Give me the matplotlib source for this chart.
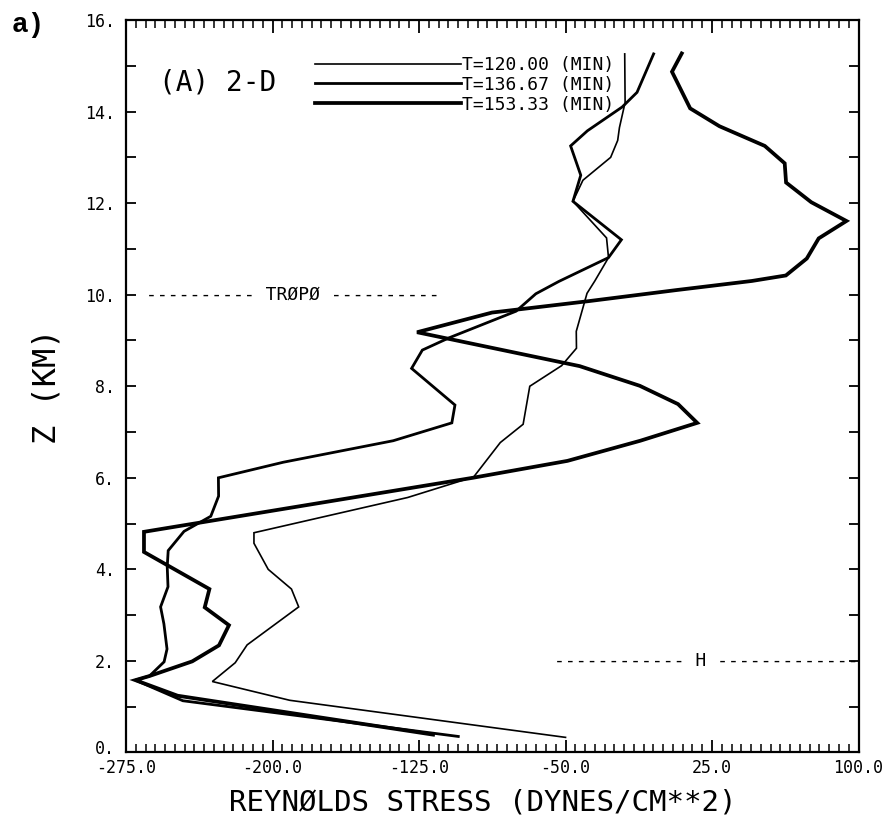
import matplotlib
matplotlib.use("Agg")
import matplotlib.pyplot as plt
from matplotlib.ticker import MultipleLocator, FixedLocator, FixedFormatter
from matplotlib.transforms import ScaledTranslation

# Reynolds stress profiles (dynes/cm**2) against height (km), 2-D run
z_t120 = [15.26, 14.2, 13.65, 13.37, 13.0, 12.5, 12.04, 11.24, 10.81, 10.3,
          10.03, 9.2, 8.83, 8.45, 8.0, 7.17, 6.77, 6.02, 5.57, 4.8, 4.57, 4.0,
          3.57, 3.18, 2.35, 1.96, 1.55, 1.14, 0.33]
s_t120 = [-19.7, -19.5, -22.4, -23.3, -26.9, -41.1, -46.2, -29.0, -28.0, -35.0,
          -39.0, -44.5, -44.4, -52.0, -68.3, -71.7, -83.4, -97.0, -130.8, -209.5,
          -209.5, -202.2, -190.3, -186.6, -213.0, -219.1, -230.8, -191.2, -50.0]

z_t137 = [15.26, 14.42, 14.1, 13.58, 13.25, 12.61, 12.04, 11.2, 10.81, 10.29,
          10.02, 9.64, 9.06, 8.79, 8.39, 7.59, 7.2, 6.81, 6.34, 6.0, 5.6, 5.16,
          4.83, 4.41, 4.06, 3.62, 3.18, 2.81, 2.26, 1.98, 1.67, 1.58, 1.13, 0.35]
s_t137 = [-4.9, -13.4, -21.0, -38.8, -47.4, -42.2, -46.2, -21.4, -28.0, -53.4,
          -65.2, -75.3, -109.5, -123.3, -128.8, -106.6, -108.2, -138.2, -194.5,
          -227.7, -227.6, -231.6, -245.3, -253.4, -253.9, -253.5, -257.3, -255.6,
          -254.0, -255.5, -263.0, -270.2, -245.9, -104.9]

z_t153 = [15.27, 14.87, 14.07, 13.68, 13.25, 12.87, 12.45, 12.02, 11.61, 11.23,
          10.79, 10.42, 10.3, 10.1, 9.86, 9.61, 9.18, 8.44, 8.01, 7.61, 7.2, 6.81,
          6.37, 6.0, 4.82, 4.38, 3.57, 3.17, 2.78, 2.34, 1.99, 1.67, 1.58, 1.24,
          0.39]
s_t153 = [9.5, 4.5, 13.8, 28.8, 52.0, 62.2, 62.9, 75.8, 93.8, 79.6, 73.5, 62.8,
          45.4, 6.6, -38.0, -87.6, -126.0, -42.8, -12.0, 7.6, 17.4, -11.7, -49.0,
          -97.5, -265.8, -265.8, -232.3, -234.7, -222.3, -227.4, -241.1, -263.0,
          -270.2, -248.6, -117.8]

series_labels = ["T=120.00 (MIN)", "T=136.67 (MIN)", "T=153.33 (MIN)"]
x_ticks = [-275.0, -200.0, -125.0, -50.0, 25.0, 100.0]
x_tick_labels = ["-275.0", "-200.0", "-125.0", "-50.0", "25.0", "100.0"]
y_ticks = [0, 2, 4, 6, 8, 10, 12, 14, 16]
y_tick_labels = ["0.", "2.", "4.", "6.", "8.", "10.", "12.", "14.", "16."]
tropopause_z = 10.0
pbl_z = 2.0

MONO = "DejaVu Sans Mono"

fig = plt.figure(figsize=(8.83, 8.24), dpi=100)
ax = fig.add_axes([0.1427, 0.0868, 0.8296, 0.8889])

l1, = ax.plot(s_t120, z_t120, color="black", lw=1.2, solid_joinstyle="miter")
l2, = ax.plot(s_t137, z_t137, color="black", lw=2.0, solid_joinstyle="miter")
l3, = ax.plot(s_t153, z_t153, color="black", lw=2.7, solid_joinstyle="miter")

ax.set_xlim(-275, 100)
ax.set_ylim(0, 16)

for sp in ax.spines.values():
    sp.set_linewidth(1.6)

ax.xaxis.set_major_locator(FixedLocator(x_ticks))
ax.xaxis.set_major_formatter(FixedFormatter(x_tick_labels))
ax.xaxis.set_minor_locator(MultipleLocator(5))
ax.yaxis.set_major_locator(FixedLocator(y_ticks))
ax.yaxis.set_major_formatter(FixedFormatter(y_tick_labels))
ax.yaxis.set_minor_locator(MultipleLocator(1))

ax.tick_params(axis="x", which="major", direction="in", length=9, width=1.3,
               top=True, bottom=True, pad=5)
ax.tick_params(axis="x", which="minor", direction="in", length=5.5, width=1.1,
               top=True, bottom=True)
ax.tick_params(axis="y", which="both", direction="in", length=7.5, width=1.3,
               left=True, right=True, pad=8)
for lab in ax.get_xticklabels() + ax.get_yticklabels():
    lab.set_fontfamily(MONO)
    lab.set_fontsize(12)

# lift the "0." label a little so it clears the "-275.0" below it
fig.canvas.draw()
zero_lab = ax.get_yticklabels()[0]
zero_lab.set_transform(zero_lab.get_transform() +
                       ScaledTranslation(0, 5 / 100, fig.dpi_scale_trans))

ax.set_xlabel("REYNØLDS STRESS (DYNES/CM**2)", fontfamily=MONO, fontsize=21,
              labelpad=8)
ax.xaxis.label.set_x(0.487)
ax.set_ylabel("Z (KM)", fontfamily=MONO, fontsize=23, labelpad=16)

ax.text(-258, 14.47, "(A) 2-D", fontfamily=MONO, fontsize=20, va="baseline",
        ha="left")

ax.text(-265, tropopause_z, "---------- TRØPØ ----------", fontfamily=MONO,
        fontsize=13, va="center", ha="left")
ax.text(100, pbl_z, "------------ H -------------", fontfamily=MONO,
        fontsize=13, va="center", ha="right")

leg = ax.legend([l1, l2, l3], series_labels, loc="upper left",
                bbox_to_anchor=(0.258, 0.951), frameon=False,
                prop={"family": MONO, "size": 13}, handlelength=8.1,
                handletextpad=0.05, labelspacing=0.1, borderpad=0,
                borderaxespad=0)

fig.text(0.013, 0.985, "a)", fontfamily="Liberation Mono", fontweight="bold",
         fontsize=20, va="top", ha="left")

fig.savefig("out.png", dpi=100)
